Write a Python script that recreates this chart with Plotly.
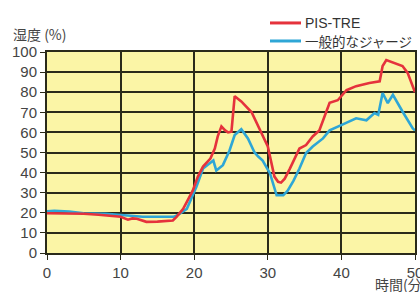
import plotly.graph_objects as go

# PIS-TRE (red)
red_t = [0, 2, 5, 7, 10, 11, 11.6, 12.2, 13.5, 15, 17.1, 17.6, 18.5, 19.8, 20.5, 21.2, 22.2, 22.8, 23.2, 23.7, 24.2, 24.6, 25.06, 25.5, 26.4, 27.8, 29.1, 30, 30.9, 31.4, 31.8, 32.3, 33, 34.3, 35.2, 36.1, 37, 38.4, 39.5, 40.7, 42, 43.8, 45.2, 45.6, 46.1, 47.2, 48.3, 49, 50]
red_v = [19.8, 19.8, 19.5, 19, 18, 16.6, 17.2, 17, 15.5, 15.6, 16.2, 18, 22, 31, 38, 43, 47, 52, 58, 63, 61, 60, 60.4, 78, 75.4, 70, 60, 53, 38, 35.4, 35, 37, 42, 52, 53.7, 58, 61, 74.7, 76, 81, 83, 84.6, 85.4, 93, 96, 94.6, 93, 89.6, 80]

# 一般的なジャージ (blue)
blue_t = [0, 1, 3, 5, 8, 10, 11, 12, 13, 15, 17.2, 17.8, 19, 20.3, 21.2, 22.6, 23, 23.9, 24.8, 25.5, 26.4, 27.3, 28.2, 28.7, 29.3, 30.3, 31.2, 32.1, 32.7, 33.5, 34.3, 35.2, 36.1, 37.5, 38.4, 40.2, 42, 43.4, 44.5, 45, 45.6, 46.3, 47, 48.3, 49.7, 50]
blue_v = [20.8, 21, 20.6, 19.8, 19.5, 19, 18.5, 18.6, 18, 18, 18, 19, 22, 33, 42, 46, 41, 43.7, 51, 58.7, 61.6, 57, 50, 48, 46, 39.6, 28.7, 28.7, 31, 36, 42, 49.7, 53, 57, 61, 64, 67, 66, 69.6, 68.7, 79.6, 74.6, 78.7, 70.4, 62, 61]

x_ticks = [0, 10, 20, 30, 40, 50]
y_ticks = [0, 10, 20, 30, 40, 50, 60, 70, 80, 90, 100]

fig = go.Figure()
fig.add_trace(go.Scatter(x=blue_t, y=blue_v, mode="lines", name="一般的なジャージ",
                         line=dict(color="#2EA6D6", width=2.6), showlegend=False))
fig.add_trace(go.Scatter(x=red_t, y=red_v, mode="lines", name="PIS-TRE",
                         line=dict(color="#E5323C", width=2.6), showlegend=False))

font_fam = "Liberation Sans, Arial, sans-serif"

# plot area in page pixels: x 47..415, y 52..252.7
PW, PH = 368.0, 200.7
def px(xp):
    return (xp - 47) / PW
def py(yp):
    return (252.7 - yp) / PH

fig.add_shape(type="line", xref="paper", yref="paper", x0=px(270), x1=px(301),
              y0=py(23), y1=py(23), line=dict(color="#E5323C", width=3))
fig.add_shape(type="line", xref="paper", yref="paper", x0=px(270), x1=px(301),
              y0=py(41), y1=py(41), line=dict(color="#2EA6D6", width=3))
fig.add_annotation(text="PIS-TRE", xref="paper", yref="paper", x=px(303), y=py(23),
                   xanchor="left", yanchor="middle", showarrow=False,
                   font=dict(family=font_fam, size=14, color="#333"))
fig.add_annotation(text="一般的なジャージ", xref="paper", yref="paper", x=px(303), y=py(41),
                   xanchor="left", yanchor="middle", showarrow=False,
                   font=dict(family="Noto Sans CJK JP", size=13.5, color="#333"))
fig.add_annotation(text="湿度 (%)", xref="paper", yref="paper", x=px(11), y=py(34),
                   xanchor="left", yanchor="middle", showarrow=False,
                   font=dict(family="Noto Sans CJK JP", size=14, color="#444"))
fig.add_annotation(text="時間(分)", xref="paper", yref="paper", x=px(373), y=py(284),
                   xanchor="left", yanchor="middle", showarrow=False,
                   font=dict(family="Noto Sans CJK JP", size=14, color="#444"))

fig.update_layout(
    width=420, height=292,
    margin=dict(l=47, r=5, t=52, b=39.3, autoexpand=False),
    paper_bgcolor="white",
    plot_bgcolor="#FBF5A6",
    showlegend=False,
)
fig.update_xaxes(range=[0, 50], tickvals=x_ticks, showgrid=True, gridcolor="#2a2a1a", gridwidth=1.5,
                 showline=True, linecolor="#2a2a1a", linewidth=2, mirror=True, automargin=False,
                 ticks="outside", ticklen=5, tickcolor="#2a2a1a", ticklabeloverflow="allow",
                 tickfont=dict(family=font_fam, size=15, color="#444"), zeroline=False)
fig.update_yaxes(range=[0, 100], tickvals=y_ticks, showgrid=True, gridcolor="#2a2a1a", gridwidth=1.5,
                 showline=True, linecolor="#2a2a1a", linewidth=2, mirror=True, automargin=False,
                 ticks="outside", ticklen=5, tickcolor="#2a2a1a", ticklabeloverflow="allow",
                 tickfont=dict(family=font_fam, size=15, color="#444"), zeroline=False)

fig.write_html("out.html", config={"displayModeBar": False},
               post_script="document.body.style.margin='0';document.body.style.overflow='hidden';")
